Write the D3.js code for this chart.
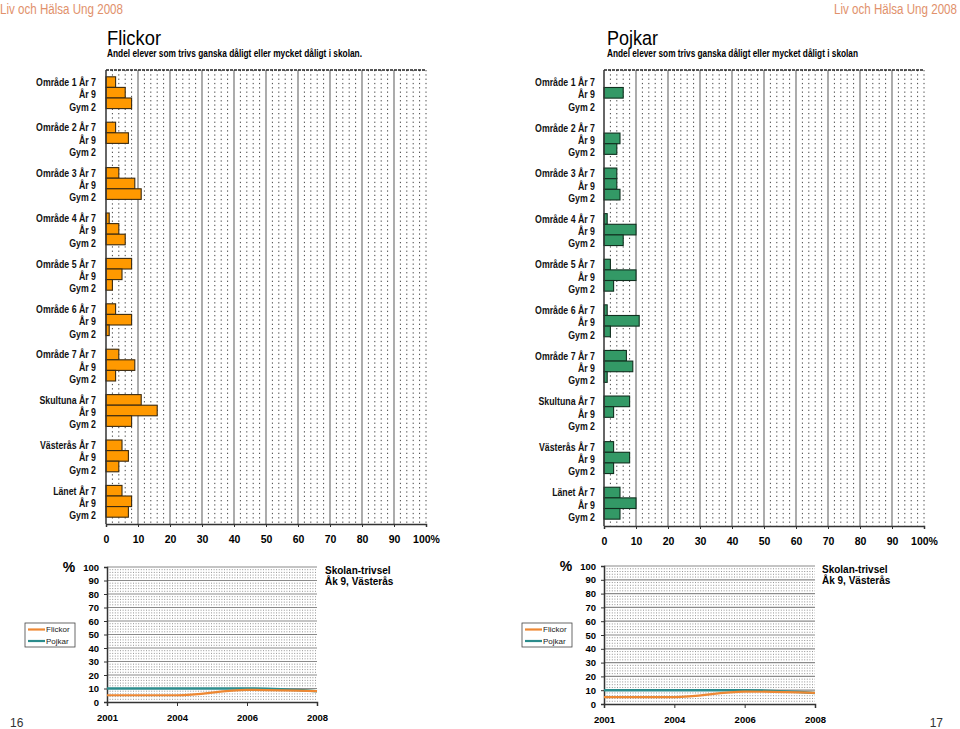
<!DOCTYPE html>
<html><head><meta charset="utf-8">
<script src="https://cdn.jsdelivr.net/npm/d3@7"></script>
<style>
body{margin:0;background:#fff}
svg text{font-family:Arial,"Liberation Sans",sans-serif}
</style>
</head><body>
<svg id="c" width="960" height="729"></svg>
<script>
// ---------- DATA ----------
const groups = ["Område 1","Område 2","Område 3","Område 4","Område 5","Område 6","Område 7","Skultuna","Västerås","Länet"];
const grades = ["År 7","År 9","Gym 2"];
const flickorAr7  = [3, 3, 4, 1, 8, 3, 4, 11, 5, 5];
const flickorAr9  = [6, 7, 9, 4, 5, 8, 9, 16, 7, 8];
const flickorGym2 = [8, null, 11, 6, 2, 1, 3, 8, 4, 7];
const pojkarAr7   = [null, null, 4, 1, 2, 1, 7, 8, 3, 5];
const pojkarAr9   = [6, 5, 4, 10, 10, 11, 9, 3, 8, 10];
const pojkarGym2  = [null, 4, 5, 6, 3, 2, 1, null, 3, 5];
const pctTicks = [0,10,20,30,40,50,60,70,80,90,100];
const years = ["2001","2004","2006","2008"];
const trendFlickor = [5, 5, 9, 8];
const trendPojkar  = [10, 10, 10, 8];
const trendTicks = [0,10,20,30,40,50,60,70,80,90,100];

const svg = d3.select("#c");

// ---------- headers ----------
function headerText(x, y, txt, size, weight, color, anchor, len){
  const t = svg.append("text").attr("x",x).attr("y",y).text(txt)
    .attr("font-size",size).attr("font-weight",weight).attr("fill",color)
    .attr("text-anchor",anchor||"start");
  if(len) t.attr("textLength",len).attr("lengthAdjust","spacingAndGlyphs");
  return t;
}
function squeeze(sel, f){
  sel.each(function(){
    const w = this.getComputedTextLength();
    d3.select(this).attr("textLength", w*f).attr("lengthAdjust","spacingAndGlyphs");
  });
}
function brand(x, anchor){
  svg.append("g").attr("transform",`translate(${x},14) scale(0.84,1)`)
    .append("text").attr("x",0).attr("y",0).attr("text-anchor",anchor)
    .attr("font-size",13.8).attr("fill","#E1916B").text("Liv och Hälsa Ung 2008");
}
brand(0, "start");
brand(957, "end");
headerText(107, 44.5, "Flickor", 20.5, "normal", "#000", "start", 54);
headerText(107, 56.5, "Andel elever som trivs ganska dåligt eller mycket dåligt i skolan.", 10.3, "bold", "#000", "start", 255);
headerText(607, 44.5, "Pojkar", 20.5, "normal", "#000", "start", 51);
headerText(607, 56.5, "Andel elever som trivs ganska dåligt eller mycket dåligt i skolan", 10.3, "bold", "#000", "start", 251);
headerText(10, 727, "16", 12, "normal", "#333", "start");
headerText(943, 727, "17", 12, "normal", "#333", "end");

// ---------- bar charts ----------
function barChart(o){
  const g = svg.append("g");
  const x = d3.scaleLinear().domain([0,100]).range([o.x0,o.x1]);
  const y = d3.scaleBand().domain(groups).range([o.top,o.bottom]).paddingInner(0.3).paddingOuter(0.15);
  const y1 = d3.scaleBand().domain(grades).range([0,y.bandwidth()]);
  // minor dotted grid
  const minor = d3.range(2,101,2).filter(v=>v%10!==0 || v===100);
  g.selectAll(".mn").data(minor).join("line")
    .attr("x1",d=>x(d)).attr("x2",d=>x(d)).attr("y1",o.top).attr("y2",o.bottom)
    .attr("stroke","#444").attr("stroke-width",1).attr("stroke-dasharray","1.3,3");
  // major grid
  g.selectAll(".mj").data(pctTicks.filter(v=>v>0 && v<100)).join("line")
    .attr("x1",d=>x(d)).attr("x2",d=>x(d)).attr("y1",o.top).attr("y2",o.bottom)
    .attr("stroke","#888").attr("stroke-width",1.4);
  // top border
  g.append("line").attr("x1",o.x0).attr("x2",o.x1).attr("y1",o.top).attr("y2",o.top)
    .attr("stroke","#222").attr("stroke-width",1.3).attr("stroke-dasharray","3,1");
  // bars
  const rows = [];
  groups.forEach((grp,i)=>{
    o.series.forEach((arr,k)=>{ if(arr[i]!=null) rows.push({grp, grade:grades[k], v:arr[i]}); });
  });
  g.selectAll(".bar").data(rows).join("rect")
    .attr("x",x(0)).attr("y",d=>y(d.grp)+y1(d.grade))
    .attr("width",d=>x(d.v)-x(0)).attr("height",y1.bandwidth())
    .attr("fill",o.fill).attr("stroke",o.stroke).attr("stroke-width",1.1);
  // left axis
  g.append("line").attr("x1",o.x0).attr("x2",o.x0).attr("y1",o.top).attr("y2",o.bottom)
    .attr("stroke","#333").attr("stroke-width",1.5);
  // bottom axis
  const ax = g.append("g").attr("transform",`translate(0,${o.bottom})`)
    .call(d3.axisBottom(x).tickValues(pctTicks).tickSize(3).tickPadding(9)
      .tickFormat(d=>d===100?"100%":d));
  ax.select(".domain").attr("stroke","#333").attr("stroke-width",1.5);
  ax.selectAll(".tick line").attr("stroke","#333");
  ax.selectAll("text").attr("font-size",10.5).attr("font-weight","bold").attr("fill","#000")
    .attr("font-family","Arial, 'Liberation Sans', sans-serif");
  // category labels
  groups.forEach(grp=>{
    const c = y(grp) + y.bandwidth()/2 + 2;
    grades.forEach((gr,k)=>{
      const t = g.append("text").attr("x",o.labelX).attr("y",c + (k-1)*12.3).attr("dy","0.35em")
        .attr("text-anchor","end").attr("font-size",10.2).attr("font-weight","bold").attr("fill","#111")
        .text(k===0 ? grp+" "+gr : gr);
      squeeze(t, 0.86);
    });
  });
}
barChart({x0:106,x1:426,top:70,bottom:524,labelX:96,
  series:[flickorAr7,flickorAr9,flickorGym2],fill:"#FF9900",stroke:"#3a2a10"});
barChart({x0:604,x1:924,top:70,bottom:526,labelX:595,
  series:[pojkarAr7,pojkarAr9,pojkarGym2],fill:"#339966",stroke:"#10301f"});

// ---------- trend charts ----------
function trendChart(o){
  const g = svg.append("g");
  const x = d3.scalePoint().domain(years).range([o.x0,o.x1]);
  const y = d3.scaleLinear().domain([0,100]).range([o.bottom,o.top]);
  // minor dotted horizontal grid
  g.selectAll(".mn").data(d3.range(2,101,2).filter(v=>v%10!==0)).join("line")
    .attr("x1",o.x0).attr("x2",o.x1).attr("y1",d=>y(d)).attr("y2",d=>y(d))
    .attr("stroke","#777").attr("stroke-width",0.8).attr("stroke-dasharray","1,1.6");
  // major grid
  g.selectAll(".mj").data(trendTicks.filter(v=>v>0)).join("line")
    .attr("x1",o.x0).attr("x2",o.x1).attr("y1",d=>y(d)).attr("y2",d=>y(d))
    .attr("stroke","#8a8a8a").attr("stroke-width",1.2);
  // axes
  const ay = g.append("g").attr("transform",`translate(${o.x0},0)`)
    .call(d3.axisLeft(y).tickValues(trendTicks).tickSize(3).tickPadding(5));
  ay.select(".domain").attr("stroke","#333").attr("stroke-width",1.5);
  ay.selectAll(".tick line").attr("stroke","#333");
  ay.selectAll("text").attr("font-size",9.5).attr("font-weight","bold").attr("fill","#000")
    .attr("font-family","Arial, 'Liberation Sans', sans-serif");
  const axb = g.append("g").attr("transform",`translate(0,${o.bottom})`)
    .call(d3.axisBottom(x).tickSize(4).tickPadding(8));
  axb.select(".domain").attr("stroke","#333").attr("stroke-width",1.5);
  axb.selectAll(".tick line").attr("stroke","#333");
  axb.selectAll("text").attr("font-size",9.5).attr("font-weight","bold").attr("fill","#000")
    .attr("font-family","Arial, 'Liberation Sans', sans-serif");
  // lines
  const line = d3.line().x((d,i)=>x(years[i])).y(d=>y(d)).curve(d3.curveMonotoneX);
  g.append("path").attr("d",line(trendPojkar)).attr("fill","none")
    .attr("stroke","#2B8C8C").attr("stroke-width",2.5);
  g.append("path").attr("d",line(trendFlickor)).attr("fill","none")
    .attr("stroke","#EE8833").attr("stroke-width",2.2);
  // % label
  g.append("text").attr("x",o.x0-38).attr("y",o.top+5).attr("text-anchor","middle")
    .attr("font-size",14).attr("font-weight","bold").text("%");
  // title
  g.append("text").attr("x",o.titleX).attr("y",o.top+7).attr("font-size",10).attr("font-weight","bold").text("Skolan-trivsel");
  g.append("text").attr("x",o.titleX).attr("y",o.top+18).attr("font-size",10).attr("font-weight","bold").text("Åk 9, Västerås");
  // legend
  const lg = g.append("g").attr("transform",`translate(${o.legX},${o.legY})`);
  lg.append("rect").attr("width",50).attr("height",24).attr("fill","#fff").attr("stroke","#444").attr("stroke-width",0.8);
  [["Flickor","#EE8833"],["Pojkar","#2B8C8C"]].forEach((e,i)=>{
    lg.append("line").attr("x1",3).attr("x2",20).attr("y1",6.5+i*11.5).attr("y2",6.5+i*11.5)
      .attr("stroke",e[1]).attr("stroke-width",2.2);
    lg.append("text").attr("x",21).attr("y",6.5+i*11.5).attr("dy","0.35em")
      .attr("font-size",8).attr("fill","#222").text(e[0]);
  });
}
trendChart({x0:107,x1:317,top:567,bottom:702,titleX:325,legX:25,legY:623});
trendChart({x0:604,x1:815,top:566,bottom:704,titleX:822,legX:522,legY:623});
</script>
</body></html>
